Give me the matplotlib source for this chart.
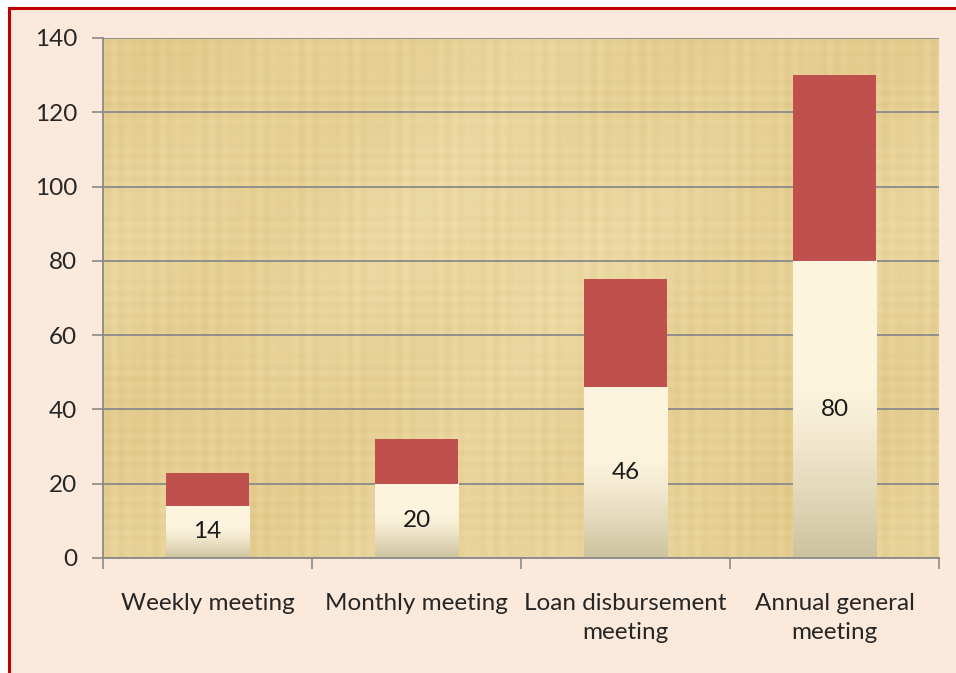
import numpy as np
import matplotlib
matplotlib.use("Agg")
import matplotlib.pyplot as plt
from matplotlib.patches import Rectangle

categories = ["Weekly meeting", "Monthly meeting", "Loan disbursement\nmeeting", "Annual general\nmeeting"]
bottom_values = [14, 20, 46, 80]
top_values = [9, 12, 29, 50]
y_ticks = [0, 20, 40, 60, 80, 100, 120, 140]

plt.rcParams['font.family'] = ['Lato', 'DejaVu Sans']

W, H = 956, 673
fig = plt.figure(figsize=(W / 100, H / 100), dpi=100)
fig.patch.set_facecolor("white")

# page frame
frame = Rectangle((8.5 / W, -0.01), 1.0, (H - 7.5) / H + 0.01, transform=fig.transFigure,
                  facecolor="#FBEADC", edgecolor="#C00000", linewidth=2.2, zorder=-10)
fig.patches.append(frame)

ax = fig.add_axes([103 / W, (H - 558) / H, (939 - 103) / W, (558 - 38) / H])
ax.set_zorder(1)
ax.set_facecolor("none")

# papyrus-like background texture (decorative, deterministic)
ny, nx = 260, 420
yy, xx = np.mgrid[0:ny, 0:nx]
tex = (0.45 * np.sin(xx * 0.9) * np.sin(xx * 0.13 + 1.0)
       + 0.35 * np.sin(yy * 1.1) * np.sin(yy * 0.09 + 2.0)
       + 0.35 * np.sin(xx * 0.021 + 0.5) + 0.3 * np.sin(yy * 0.03 + 1.7)
       + 0.2 * np.sin(xx * 0.05 + yy * 0.04))
tex = (tex - tex.min()) / (tex.max() - tex.min())
light = np.array([240, 222, 172]) / 255
dark = np.array([222, 196, 130]) / 255
img = light[None, None, :] * (1 - tex[..., None]) + dark[None, None, :] * tex[..., None]

x = np.arange(len(categories))
width = 0.4
ax.imshow(img, extent=[-0.5, len(categories) - 0.5, 0, 140], aspect="auto", zorder=0,
          interpolation="bilinear")

# cream bars with vertical gradient
cream = np.array([253, 244, 222]) / 255
grey = np.array([205, 194, 158]) / 255
for xi, b in zip(x, bottom_values):
    n = 200
    t = np.linspace(0, 1, n)  # 0 top, 1 bottom
    f = np.clip((t - 0.4) / 0.6, 0, 1) ** 1.3
    col = cream[None, :] * (1 - f[:, None]) + grey[None, :] * f[:, None]
    grad = np.repeat(col[:, None, :], 2, axis=1)
    ax.imshow(grad, extent=[xi - width / 2, xi + width / 2, 0, b], aspect="auto", zorder=3,
              interpolation="bilinear")

ax.bar(x, top_values, width, bottom=bottom_values, color="#C0504D", zorder=3)

for xi, b in zip(x, bottom_values):
    ax.text(xi, b / 2, str(b), ha="center", va="center", fontsize=17.5, color="#1a1a1a", zorder=4)

ax.set_xlim(-0.5, len(categories) - 0.5)
ax.set_ylim(0, 140)
ax.set_yticks(y_ticks)
ax.yaxis.grid(True, color="#8a8a8a", linewidth=1.3, zorder=1)
ax.set_axisbelow(False)
for gl in ax.get_ygridlines():
    gl.set_zorder(1)

ax.set_xticks(x)
ax.set_xticklabels(categories, fontsize=17.5, color="#262626", linespacing=1.5)
ax.set_xticks(np.arange(-0.5, len(categories)), minor=True)
ax.tick_params(axis="x", which="major", length=0, pad=25)
ax.tick_params(axis="x", which="minor", length=8, width=1.2, color="#8a8a8a")
ax.tick_params(axis="y", length=8, width=1.2, color="#8a8a8a", labelsize=17.5,
               labelcolor="#262626", pad=10.5)

for s in ["top", "right"]:
    ax.spines[s].set_visible(False)
for s in ["left", "bottom"]:
    ax.spines[s].set_color("#8a8a8a")
    ax.spines[s].set_linewidth(1.3)
    ax.spines[s].set_zorder(5)

fig.savefig("out.png", dpi=100, facecolor=fig.get_facecolor())
